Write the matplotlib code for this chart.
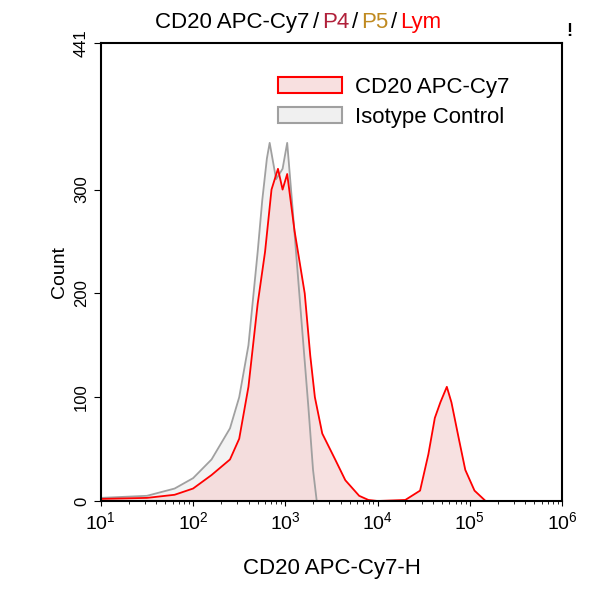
import numpy as np
import matplotlib.pyplot as plt
from matplotlib.patches import Patch

plt.rcParams['font.family'] = ['Liberation Sans', 'DejaVu Sans']
plt.rcParams['mathtext.fontset'] = 'custom'
plt.rcParams['mathtext.rm'] = 'Liberation Sans'
plt.rcParams['mathtext.it'] = 'Liberation Sans'

# log10 fluorescence, counts
iso_x = [1.0, 1.5, 1.8, 2.0, 2.2, 2.4, 2.5, 2.6, 2.7, 2.75, 2.8, 2.83, 2.9, 2.97, 3.02, 3.08, 3.16, 3.25, 3.3, 3.34, 3.4]
iso_y = [3, 5, 12, 22, 40, 70, 100, 150, 240, 290, 330, 345, 310, 320, 345, 280, 190, 90, 30, 0, 0]
cd_x = [1.0, 1.5, 1.8, 2.0, 2.2, 2.4, 2.5, 2.6, 2.7, 2.78, 2.85, 2.92, 2.97, 3.02, 3.1, 3.21, 3.27, 3.32, 3.4, 3.54,
        3.65, 3.8, 3.9, 4.0, 4.3, 4.46, 4.55, 4.62, 4.68, 4.75, 4.8, 4.88, 4.95, 5.05, 5.17, 5.3]
cd_y = [2, 3, 6, 12, 25, 40, 60, 110, 190, 240, 300, 320, 300, 315, 260, 200, 140, 100, 65, 40,
        20, 5, 1, 0, 1, 10, 45, 80, 95, 110, 95, 60, 30, 10, 0, 0]

fig = plt.figure(figsize=(5.93, 6), dpi=100)
ax = fig.add_axes([0.170, 0.165, 0.778, 0.763])

ix = 10 ** np.array(iso_x)
cx = 10 ** np.array(cd_x)
ax.fill_between(ix, iso_y, color='#e8e8e8', alpha=0.5, lw=0)
ax.fill_between(cx, cd_y, color='#f5d5d5', alpha=0.7, lw=0)
ax.plot(ix, iso_y, color='#a0a0a0', lw=1.3)
ax.plot(cx, cd_y, color='red', lw=1.3)

ax.set_xscale('log')
ax.set_xlim(10, 1e6)
ax.set_ylim(0, 441)
ax.set_yticks([0, 100, 200, 300, 441])
ax.set_xticks([10 ** k for k in range(1, 7)])
ax.set_xticklabels([f'$10^{{{k}}}$' for k in range(1, 7)], fontsize=14)
for lab in ax.get_yticklabels():
    lab.set_rotation(90)
    lab.set_va('center')
ax.tick_params(axis='y', labelsize=12, direction='out', length=5)
ax.tick_params(axis='x', which='both', direction='out')
ax.set_xlabel('CD20 APC-Cy7-H', fontsize=16, labelpad=18)
ax.set_ylabel('Count', fontsize=14)
for s in ax.spines.values():
    s.set_linewidth(1.5)

handles = [Patch(facecolor='#f8e0e0', edgecolor='red', lw=1.5),
           Patch(facecolor='#f0f0f0', edgecolor='#a0a0a0', lw=1.5)]
ax.legend(handles, ['CD20 APC-Cy7', 'Isotype Control'], loc='upper left',
          bbox_to_anchor=(0.34, 0.97), frameon=False, fontsize=16,
          handlelength=2.9, handleheight=0.7, handletextpad=0.6, labelspacing=0.4)

# multicoloured title
parts = [('CD20 APC-Cy7', 'black'), ('/', 'black'), ('P4', '#b0203a'), ('/', 'black'),
         ('P5', '#c08a20'), ('/', 'black'), ('Lym', 'red')]
renderer = fig.canvas.get_renderer()
x = 0.262
for txt, col in parts:
    t = fig.text(x, 0.962, txt, color=col, fontsize=16, va='center')
    bb = t.get_window_extent(renderer=renderer)
    x += (bb.width + 3) / fig.bbox.width
fig.text(0.96, 0.948, '!', fontsize=13, fontweight='bold', ha='center', va='center')

fig.savefig('out.png', dpi=100)
